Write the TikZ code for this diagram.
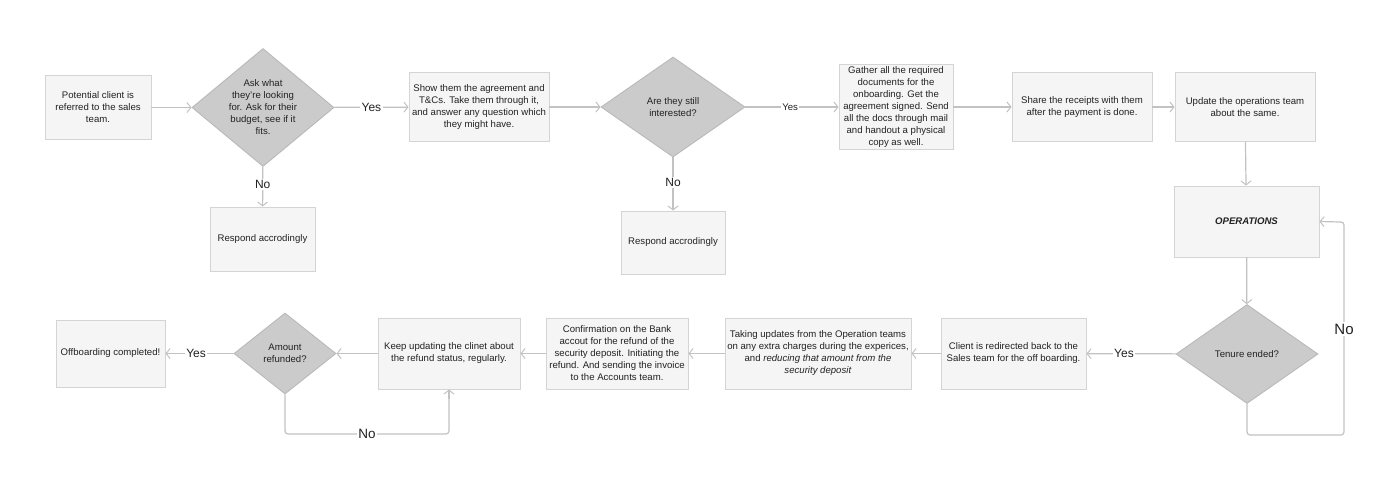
\documentclass[tikz,border=0pt]{standalone}
\usepackage{fontspec}
\setmainfont{Liberation Sans}
\usetikzlibrary{arrows.meta,shapes.geometric}
\definecolor{boxfill}{HTML}{F5F5F5}
\definecolor{boxline}{HTML}{D4D4D4}
\definecolor{dfill}{HTML}{CBCBCB}
\definecolor{dline}{HTML}{B9B9B9}
\definecolor{conn}{HTML}{C2C2C2}
\definecolor{txt}{HTML}{222222}
\tikzset{
  stepbox/.style={rectangle, draw=boxline, line width=0.9pt, fill=boxfill, inner sep=0pt, align=center, text=txt, font=\fontsize{9.6}{12}\selectfont},
  decide/.style={diamond, draw=dline, line width=0.9pt, fill=dfill, inner sep=0pt, aspect=1},
  dtext/.style={align=center, text=txt, font=\fontsize{9.6}{12}\selectfont},
  arr/.style={draw=conn, line width=1.2pt, -{Straight Barb[length=4pt,width=10pt,line width=1pt]}},
  ln/.style={draw=conn, line width=1.2pt},
  lab/.style={fill=white, inner sep=1.5pt, text=txt, font=\fontsize{12}{14}\selectfont},
  slab/.style={fill=white, inner sep=1.5pt, text=txt, font=\fontsize{9.6}{12}\selectfont},
}
\begin{document}
\begin{tikzpicture}[x=1pt,y=-1pt]
\useasboundingbox (0,0) rectangle (1400,483);
% top row
\node[stepbox, minimum width=106pt, minimum height=64pt] (b1) at (98,107.5) {Potential client is\\referred to the sales\\team.};
\node[decide, minimum width=142pt, minimum height=118pt, label={[dtext]center:Ask what\\they're looking\\for. Ask for their\\budget, see if it\\fits.}] (d1) at (263,107.5) {};
\node[stepbox, minimum width=105pt, minimum height=64pt] (r1) at (262.5,239) {Respond accrodingly};
\node[stepbox, minimum width=140pt, minimum height=69pt] (b2) at (479,107) {Show them the agreement and\\T\&Cs. Take them through it,\\and answer any question which\\they might have.};
\node[decide, minimum width=144pt, minimum height=100pt, label={[dtext]center:Are they still\\interested?}] (d2) at (673,107) {};
\node[stepbox, minimum width=104pt, minimum height=63pt] (r2) at (673,242.5) {Respond accrodingly};
\node[stepbox, minimum width=114pt, minimum height=85pt] (b3) at (896,107) {Gather all the required\\documents for the\\onboarding. Get the\\agreement signed. Send\\all the docs through mail\\and handout a physical\\copy as well.};
\node[stepbox, minimum width=140pt, minimum height=69pt] (b4) at (1082,107) {Share the receipts with them\\after the payment is done.};
\node[stepbox, minimum width=140pt, minimum height=69pt] (b5) at (1245,107) {Update the operations team\\about the same.};
\node[stepbox, minimum width=145pt, minimum height=71pt] (ops) at (1246.5,221.5) {\textbf{\textit{OPERATIONS}}};
\node[decide, minimum width=142pt, minimum height=99pt, label={[dtext]center:Tenure ended?}] (d3) at (1247,354) {};
% bottom row
\node[stepbox, minimum width=145pt, minimum height=71pt] (b6) at (1013.5,353.5) {Client is redirected back to the\\Sales team for the off boarding.};
\node[stepbox, minimum width=186pt, minimum height=71pt] (b7) at (818,353.5) {Taking updates from the Operation teams\\on any extra charges during the experices,\\and \textit{reducing that amount from the}\\\textit{security deposit}};
\node[stepbox, minimum width=142pt, minimum height=71pt] (b8) at (617,353.5) {Confirmation on the Bank\\accout for the refund of the\\security deposit. Initiating the\\refund. And sending the invoice\\to the Accounts team.};
\node[stepbox, minimum width=142pt, minimum height=71pt] (b9) at (449,353.5) {Keep updating the clinet about\\the refund status, regularly.};
\node[decide, minimum width=102pt, minimum height=81pt, label={[dtext]center:Amount\\refunded?}] (d4) at (285,353.5) {};
\node[stepbox, minimum width=109pt, minimum height=67pt] (b10) at (110.5,353.5) {Offboarding completed!};
% connectors top
\draw[arr] (b1) -- (d1);
\draw[arr] (d1) -- node[lab]{Yes} (b2);
\draw[arr] (d1) -- node[lab, pos=0.45]{No} (r1);
\draw[arr] (b2) -- (d2);
\draw[arr] (d2) -- node[slab, pos=0.48]{Yes} (b3);
\draw[arr] (d2) -- node[lab, pos=0.47]{No} (r2);
\draw[arr] (b3) -- (b4);
\draw[arr] (b4) -- (b5);
\draw[arr] (b5) -- (ops);
\draw[arr] (ops) -- (d3);
% right loop
\coordinate (c1) at (1247,435);
\coordinate (c2) at (1344,435);
\coordinate (c3) at (1344,222);
\draw[ln, rounded corners=3pt] (d3.south) -- (c1) -- (c2) -- (c3) -- ++(-4,0);
\draw[arr] (1340,222) -- (ops.east);
\node[fill=white, inner sep=1.5pt, text=txt, font=\fontsize{15}{17}\selectfont] (nolab) at (1344,329) {No};
% bottom connectors
\draw[arr] (d3) -- node[lab, pos=0.58]{Yes} (b6);
\draw[arr] (b6) -- (b7);
\draw[arr] (b7) -- (b8);
\draw[arr] (b8) -- (b9);
\draw[arr] (b9) -- (d4);
\draw[arr] (d4) -- node[lab, pos=0.55]{Yes} (b10);
\coordinate (e1) at (285,434);
\coordinate (e2) at (449,434);
\draw[ln, rounded corners=3pt] (d4.south) -- (e1) -- (e2) -- (449,398);
\draw[arr] (449,399) -- (b9.south);
\node[fill=white, inner sep=1.5pt, text=txt, font=\fontsize{13.5}{15}\selectfont] (nolab2) at (367,434) {No};
\end{tikzpicture}
\end{document}
